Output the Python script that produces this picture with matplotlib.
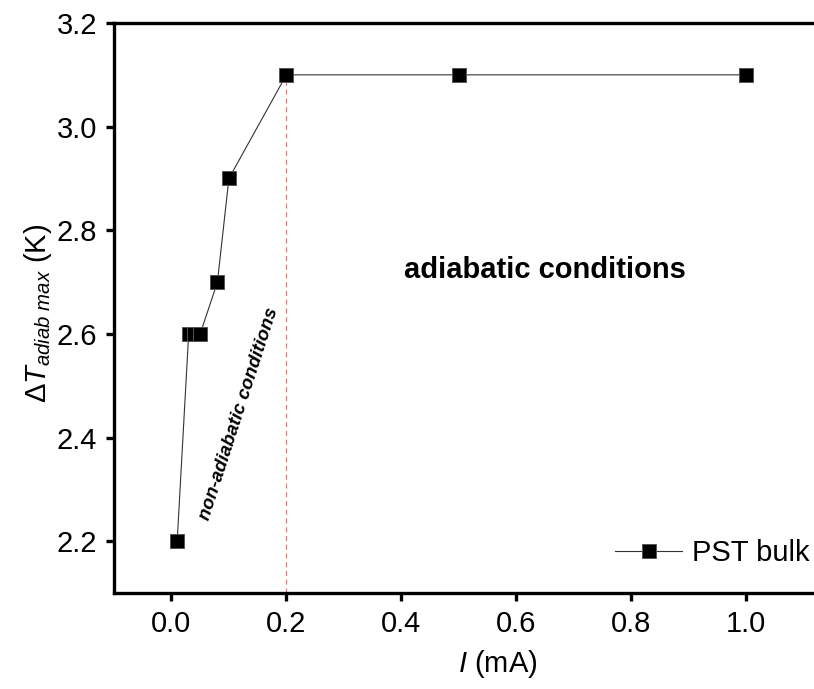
import numpy as np
import matplotlib
matplotlib.use("Agg")
import matplotlib.pyplot as plt

plt.rcParams['font.family'] = ['Liberation Sans', 'DejaVu Sans']
plt.rcParams['mathtext.fontset'] = 'custom'
plt.rcParams['mathtext.rm'] = 'Liberation Sans'
plt.rcParams['mathtext.it'] = 'Liberation Sans:italic'
plt.rcParams['mathtext.bf'] = 'Liberation Sans:bold'

# data
current_mA = [0.01, 0.03, 0.04, 0.05, 0.08, 0.10, 0.20, 0.50, 1.00]
dT_adiab_max = [2.2, 2.6, 2.6, 2.6, 2.7, 2.9, 3.1, 3.1, 3.1]
x_ticks = [0.0, 0.2, 0.4, 0.6, 0.8, 1.0]
y_ticks = [2.2, 2.4, 2.6, 2.8, 3.0, 3.2]
limit_current = 0.2

fig = plt.figure(figsize=(8.14, 6.89), dpi=100)
ax = fig.add_axes([0.140, 0.1393, 0.860, 0.8273])

ax.plot(current_mA, dT_adiab_max, color='#333333', lw=0.8, marker='s',
        markersize=9.5, markerfacecolor='black', markeredgecolor='#555555',
        markeredgewidth=0.7, label='PST bulk', zorder=3)

# vertical dashed marker at the adiabatic limit
ax.plot([limit_current, limit_current], [2.1, max(dT_adiab_max)],
        color='#e87a7a', lw=0.9, ls=(0, (4, 3)), zorder=1)

ax.text(0.649, 2.723, 'adiabatic conditions', fontsize=21, fontweight='bold',
        ha='center', va='center')
ax.text(0.118, 2.445, 'non-adiabatic conditions', fontsize=13.5,
        fontweight='bold', style='italic', rotation=72,
        ha='center', va='center')

ax.set_xlim(-0.1, 1.118)
ax.set_ylim(2.1, 3.2)
ax.set_xticks(x_ticks)
ax.set_yticks(y_ticks)
ax.set_xticklabels([f"{v:.1f}" for v in x_ticks])
ax.set_yticklabels([f"{v:.1f}" for v in y_ticks])

for side in ['left', 'bottom', 'top']:
    ax.spines[side].set_linewidth(2.4)
ax.spines['right'].set_visible(False)
ax.tick_params(axis='both', direction='out', length=6, width=2.4,
               labelsize=21, pad=6)

ax.set_xlabel(r'$\mathit{I}$ (mA)', fontsize=21)
ax.set_ylabel(r'$\mathit{\Delta T_{adiab\ max}}$ (K)', fontsize=21)
ax.xaxis.set_label_coords(0.549, -0.097)
ax.yaxis.set_label_coords(-0.086, 0.49)

ax.legend(loc='lower right', frameon=False, fontsize=21, handlelength=2.3,
          bbox_to_anchor=(1.015, 0.02), borderaxespad=0.1,
          handletextpad=0.35)

fig.savefig('out.png', dpi=100)
